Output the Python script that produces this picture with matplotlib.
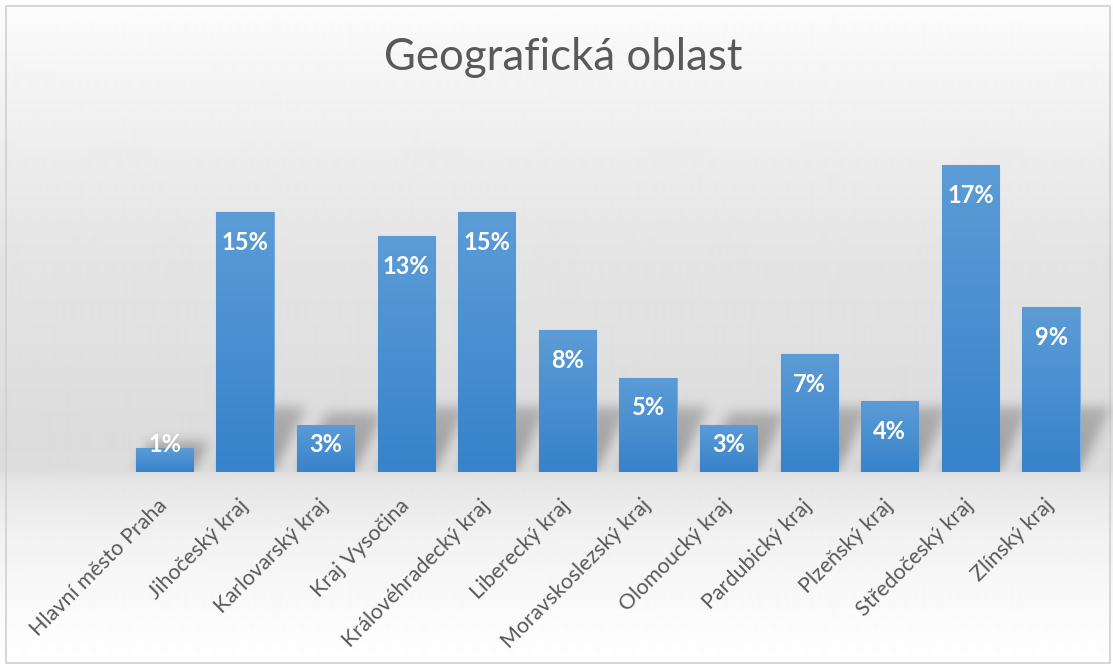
"""Geografická oblast - sloupcový graf ve stylu Excelu."""
import matplotlib.pyplot as plt
import numpy as np
from matplotlib.colors import LinearSegmentedColormap
from matplotlib.patches import Rectangle

REGIONS = [
    "Hlavní město Praha",
    "Jihočeský kraj",
    "Karlovarský kraj",
    "Kraj Vysočina",
    "Královéhradecký kraj",
    "Liberecký kraj",
    "Moravskoslezský kraj",
    "Olomoucký kraj",
    "Pardubický kraj",
    "Plzeňský kraj",
    "Středočeský kraj",
    "Zlínský kraj",
]
SHARES = [1.33, 14.67, 2.67, 13.33, 14.67, 8.0, 5.33, 2.67, 6.67, 4.0, 17.33, 9.33]
VALUE_LABELS = ["1%", "15%", "3%", "13%", "15%", "8%", "5%", "3%", "7%", "4%", "17%", "9%"]
TITLE = "Geografická oblast"

W, H, DPI = 1113, 666, 100
TEXT_COLOR = "#595959"
BAR_TOP = "#5c9cd6"
BAR_BOTTOM = "#3782cb"
BAR_WIDTH = 0.71
YMAX = 18.2

fig = plt.figure(figsize=(W / DPI, H / DPI), dpi=DPI)

# background: vertical gray gradient over the whole chart
bg = fig.add_axes([0, 0, 1, 1], zorder=0)
rows = np.arange(H)
stops_y = [0, 60, 160, 260, 440, 470, 480, 540, 620, 666]
stops_v = [0.99, 0.965, 0.925, 0.894, 0.862, 0.865, 0.9, 0.95, 0.985, 1.0]
grey = np.interp(rows, stops_y, stops_v)
bg.imshow(np.repeat(grey[:, None], 2, axis=1), cmap="gray", vmin=0, vmax=1,
          extent=[0, 1, 0, 1], aspect="auto", interpolation="bilinear")
bg.add_patch(Rectangle((6 / W, 3 / H), 1104 / W, 657 / H, fill=False,
                       edgecolor="#d0d0d0", linewidth=1.2))
bg.set_xlim(0, 1)
bg.set_ylim(0, 1)
bg.axis("off")

ax = fig.add_axes([124.2 / W, 194 / H, 967.1 / W, 322 / H], zorder=1)
ax.patch.set_visible(False)
x = np.arange(len(REGIONS))

# blurred perspective shadows behind the bars
px_x = 967.1 / len(REGIONS)
px_y = 322 / YMAX
gx = np.linspace(-0.5, 12.0, 1010)
gy = np.linspace(0, YMAX, 330)
GX, GY = np.meshgrid(gx, gy)
lift = GY * px_y
mask = np.zeros_like(GX)
for xi, v in zip(x, SHARES):
    top = min(v * px_y * 1.25, 65)
    shifted = GX - 0.5 * lift / px_x
    inside = (np.abs(shifted - xi) <= BAR_WIDTH / 2) & (lift <= top)
    mask = np.maximum(mask, inside * (1 - 0.3 * lift / 65))
kern = np.exp(-0.5 * (np.arange(-20, 21) / 6.0) ** 2)
kern /= kern.sum()
mask = np.array([np.convolve(r, kern, mode="same") for r in mask])
mask = np.array([np.convolve(c, kern, mode="same") for c in mask.T]).T
shadow = np.zeros(mask.shape + (4,))
shadow[..., 3] = 0.3 * mask
ax.imshow(shadow, extent=[gx[0], gx[-1], 0, YMAX], origin="lower",
          aspect="auto", zorder=1, clip_on=False)

# bars with top-to-bottom gradient
cmap = LinearSegmentedColormap.from_list("bar", [BAR_BOTTOM, BAR_TOP])
grad = np.linspace(0, 1, 64)[:, None]
bars = ax.bar(x, SHARES, BAR_WIDTH, color=BAR_TOP, edgecolor="#79addd",
              linewidth=0.8, zorder=2)
for b in bars:
    img = ax.imshow(grad, cmap=cmap, origin="lower", aspect="auto", zorder=2.5,
                    extent=[b.get_x(), b.get_x() + b.get_width(), 0, b.get_height()])
    img.set_clip_path(b)

for xi, v, lab in zip(x, SHARES, VALUE_LABELS):
    ax.text(xi, max(v - 1.7, 1.58), lab, ha="center", va="center",
            color="white", fontsize=17, fontweight="bold", family="Lato", zorder=4)

ax.set_xlim(-0.5, len(REGIONS) - 0.5)
ax.set_ylim(0, YMAX)
ax.set_yticks([])
ax.set_xticks(x)
ax.set_xticklabels(REGIONS, rotation=45, ha="right", va="center",
                   rotation_mode="anchor", fontsize=15.5, color=TEXT_COLOR,
                   family="Lato")
ax.tick_params(axis="x", length=0, pad=22)
for s in ax.spines.values():
    s.set_visible(False)

fig.text(0.506, 1 - 58 / H, TITLE, ha="center", va="center", fontsize=31.5,
         color=TEXT_COLOR, family="Lato")

fig.savefig("out.png", dpi=DPI)
